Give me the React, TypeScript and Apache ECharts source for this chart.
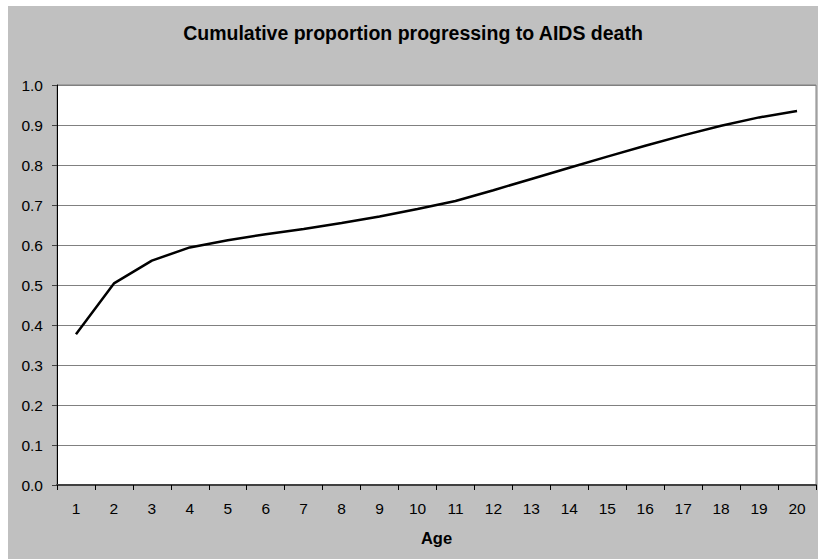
import React, { useEffect, useRef } from "react";
import * as echarts from "echarts";

const ages = ["1","2","3","4","5","6","7","8","9","10","11","12","13","14","15","16","17","18","19","20"];
const cumulativeProportion = [0.377, 0.504, 0.561, 0.594, 0.612, 0.627, 0.640, 0.655, 0.671, 0.690, 0.710, 0.737, 0.765, 0.793, 0.821, 0.848, 0.874, 0.898, 0.919, 0.935];
const chartTitle = "Cumulative proportion progressing to AIDS death";
const xAxisName = "Age";

const FONT = 'Arial, "Liberation Sans", Helvetica, sans-serif';

export default function App() {
  const ref = useRef<HTMLDivElement>(null);
  useEffect(() => {
    if (!ref.current) return;
    const chart = echarts.init(ref.current, null, { renderer: "svg" });
    chart.setOption({
      animation: false,
      backgroundColor: "#c0c0c0",
      textStyle: { fontFamily: FONT },
      title: {
        text: chartTitle,
        left: "center",
        top: 17,
        padding: [0, 0, 0, 8],
        textStyle: { fontFamily: FONT, fontSize: 19.5, fontWeight: "bold", color: "#000" },
      },
      grid: {
        left: 49,
        top: 79,
        width: 759,
        height: 400,
        show: true,
        backgroundColor: "#ffffff",
        borderColor: "#808080",
        borderWidth: 1,
        containLabel: false,
      },
      xAxis: {
        type: "category",
        data: ages,
        boundaryGap: true,
        name: xAxisName,
        nameLocation: "middle",
        nameGap: 44,
        nameTextStyle: { fontFamily: FONT, fontSize: 16.5, fontWeight: "bold", color: "#000" },
        axisLine: { show: true, lineStyle: { color: "#404040", width: 2 } },
        axisTick: { show: true, inside: false, length: 5, alignWithLabel: false, lineStyle: { color: "#000" } },
        axisLabel: { margin: 15, fontFamily: FONT, fontSize: 15.5, color: "#000", interval: 0 },
        splitLine: { show: false },
      },
      yAxis: {
        type: "value",
        min: 0,
        max: 1,
        interval: 0.1,
        axisLine: { show: true, lineStyle: { color: "#000", width: 1 } },
        axisTick: { show: true, inside: false, length: 5, lineStyle: { color: "#404040" } },
        axisLabel: {
          margin: 14,
          fontFamily: FONT,
          fontSize: 15.5,
          color: "#000",
          formatter: (v: number) => v.toFixed(1),
        },
        splitLine: { show: true, lineStyle: { color: "#808080", width: 1 } },
      },
      series: [
        {
          type: "line",
          data: cumulativeProportion,
          showSymbol: false,
          symbol: "none",
          smooth: false,
          lineStyle: { color: "#000", width: 2.5 },
          z: 5,
        },
      ],
    });
    return () => chart.dispose();
  }, []);
  return (
    <div
      ref={ref}
      style={{ position: "absolute", left: 8, top: 6, width: 810, height: 553 }}
    />
  );
}
